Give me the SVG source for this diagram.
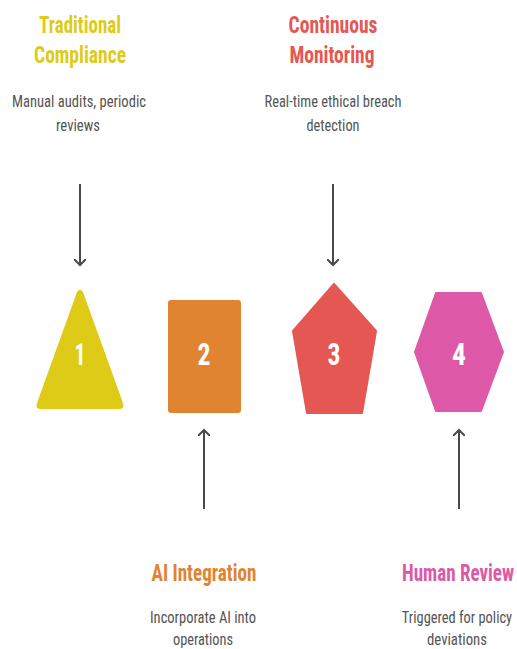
<svg xmlns="http://www.w3.org/2000/svg" width="517" height="649" viewBox="0 0 517 649">
  <style>
    .title { font-family: "Roboto Condensed", Roboto, "Liberation Sans", sans-serif; font-weight: 700; font-size: 24px; text-anchor: middle; }
    .desc { font-family: "Roboto Condensed", Roboto, "Liberation Sans", sans-serif; font-size: 16px; fill: #555555; text-anchor: middle; }
    .num { font-family: "Roboto Condensed", Roboto, "Liberation Sans", sans-serif; font-weight: 700; font-size: 31px; fill: #ffffff; text-anchor: middle; }
    .conn { stroke: #4a4a4a; stroke-width: 2; fill: none; }
    .yellow { fill: #DECB17; }
    .orange { fill: #E08431; }
    .red { fill: #E45752; }
    .pink { fill: #DD59A8; }
  </style>
  <defs>
    <marker id="arrow" markerWidth="12" markerHeight="12" refX="6" refY="6" orient="auto" markerUnits="userSpaceOnUse">
      <path d="M0,0 L6,6 L0,12" fill="none" stroke="#4a4a4a" stroke-width="2"/>
    </marker>
  </defs>
  <rect width="517" height="649" fill="#ffffff"/>

  <!-- connectors -->
  <g id="connectors">
    <line class="conn" x1="80" y1="184" x2="80" y2="265" marker-end="url(#arrow)"/>
    <line class="conn" x1="204" y1="509" x2="204" y2="430" marker-end="url(#arrow)"/>
    <line class="conn" x1="333" y1="184" x2="333" y2="265" marker-end="url(#arrow)"/>
    <line class="conn" x1="459" y1="509" x2="459" y2="430" marker-end="url(#arrow)"/>
  </g>

  <!-- step 1: triangle -->
  <g id="step1">
    <path class="yellow" d="M77,292 Q80,287 83,292 L123,403 Q125,409 119,409 L41,409 Q35,409 37,403 Z"/>
    <text class="num" x="80" y="365" textLength="11" lengthAdjust="spacingAndGlyphs">1</text>
    <text class="title yellow" x="80" y="33" textLength="82" lengthAdjust="spacingAndGlyphs">Traditional</text>
    <text class="title yellow" x="80" y="63" textLength="92" lengthAdjust="spacingAndGlyphs">Compliance</text>
    <text class="desc" x="79" y="107" textLength="134" lengthAdjust="spacingAndGlyphs">Manual audits, periodic</text>
    <text class="desc" x="78" y="131" textLength="44" lengthAdjust="spacingAndGlyphs">reviews</text>
  </g>

  <!-- step 2: rectangle -->
  <g id="step2">
    <rect class="orange" x="168" y="300" width="73" height="113" rx="3"/>
    <text class="num" x="204" y="365" textLength="13" lengthAdjust="spacingAndGlyphs">2</text>
    <text class="title orange" x="204" y="581" textLength="105" lengthAdjust="spacingAndGlyphs">AI Integration</text>
    <text class="desc" x="203" y="623" textLength="106" lengthAdjust="spacingAndGlyphs">Incorporate AI into</text>
    <text class="desc" x="203" y="645" textLength="60" lengthAdjust="spacingAndGlyphs">operations</text>
  </g>

  <!-- step 3: pentagon -->
  <g id="step3">
    <path class="red" d="M334,284 L376,331 L362,413 L307,413 L293,331 Z" stroke="#E45752" stroke-width="2" stroke-linejoin="round"/>
    <text class="num" x="334" y="365" textLength="13" lengthAdjust="spacingAndGlyphs">3</text>
    <text class="title red" x="333" y="33" textLength="89" lengthAdjust="spacingAndGlyphs">Continuous</text>
    <text class="title red" x="332" y="63" textLength="85" lengthAdjust="spacingAndGlyphs">Monitoring</text>
    <text class="desc" x="333" y="107" textLength="137" lengthAdjust="spacingAndGlyphs">Real-time ethical breach</text>
    <text class="desc" x="333" y="131" textLength="53" lengthAdjust="spacingAndGlyphs">detection</text>
  </g>

  <!-- step 4: hexagon; its labels sit near the right edge, so they are narrowed by a horizontal scale -->
  <g id="step4">
    <path class="pink" d="M436,293 L481,293 L503,352 L481,411 L436,411 L415,352 Z" stroke="#DD59A8" stroke-width="2" stroke-linejoin="round"/>
    <text class="num" x="459" y="365" textLength="14" lengthAdjust="spacingAndGlyphs">4</text>
    <g transform="translate(458,581) scale(0.7,1)">
      <text class="title pink" x="0" y="0" textLength="160" lengthAdjust="spacingAndGlyphs">Human Review</text>
    </g>
    <g transform="translate(457,623) scale(0.74,1)">
      <text class="desc" x="0" y="0" textLength="149" lengthAdjust="spacingAndGlyphs">Triggered for policy</text>
    </g>
    <text class="desc" x="457" y="645" textLength="60" lengthAdjust="spacingAndGlyphs">deviations</text>
  </g>
</svg>
